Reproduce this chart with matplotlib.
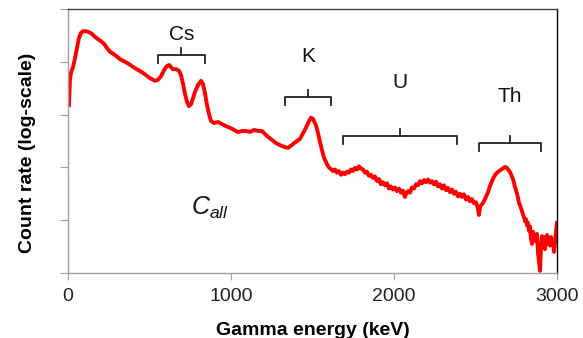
import numpy as np
import matplotlib
matplotlib.use("Agg")
import matplotlib.pyplot as plt
from matplotlib.transforms import blended_transform_factory

plt.rcParams['font.family'] = ['Liberation Sans', 'DejaVu Sans']
plt.rcParams['mathtext.fontset'] = 'custom'
plt.rcParams['mathtext.it'] = 'Liberation Sans:italic'
plt.rcParams['mathtext.rm'] = 'Liberation Sans'

# Gamma energy (keV) and count rate (log10, arbitrary units)
energy_kev = [6, 12, 18, 31, 43, 55, 67, 80, 92, 110, 129, 147, 166, 184, 202, 221, 239, 258,
              288, 319, 362, 411, 460, 503, 534, 552, 571, 589, 607, 620, 632, 644, 663, 681,
              693, 706, 718, 730, 742, 755, 767, 779, 798, 816, 828, 840, 853, 865, 877, 896,
              920, 945, 969, 994, 1018, 1043, 1067, 1092, 1117, 1141, 1166, 1190, 1209, 1227,
              1252, 1276, 1301, 1325, 1350, 1368, 1387, 1405, 1423, 1442, 1460, 1479, 1491,
              1503, 1521, 1534, 1546, 1558, 1571,
              1589, 1601, 1613, 1626, 1638, 1650, 1662, 1675, 1687, 1699, 1711, 1724, 1736,
              1748, 1760, 1773, 1785, 1797, 1810, 1822, 1834, 1846, 1859, 1871, 1883, 1895,
              1908, 1920, 1932, 1945, 1957, 1969, 1981, 1994, 2006, 2018, 2031, 2043, 2055,
              2067, 2074, 2086, 2098, 2110, 2123, 2135, 2147, 2160, 2172, 2184, 2196, 2209,
              2221, 2233, 2245, 2258, 2270, 2282, 2294, 2307, 2319, 2331, 2344, 2356, 2368,
              2380, 2393, 2405, 2417, 2429, 2442, 2454, 2466, 2478, 2491, 2503, 2515, 2521,
              2528, 2540, 2552, 2564, 2577, 2589, 2601, 2613, 2626, 2644, 2663, 2681,
              2693, 2712, 2730, 2742, 2755, 2767, 2779, 2791, 2798, 2804, 2810, 2816, 2822,
              2828, 2834, 2840, 2847, 2853, 2859, 2865, 2871, 2877, 2884, 2890, 2896, 2902,
              2908, 2914, 2920, 2926, 2932, 2939, 2945, 2951, 2957, 2963, 2969, 2975, 2982,
              2988, 2994, 3000]
log_count = [3.18, 3.66, 3.79, 3.90, 4.07, 4.26, 4.45, 4.55, 4.58, 4.58, 4.56, 4.53, 4.47, 4.43,
             4.39, 4.34, 4.26, 4.19, 4.13, 4.05, 3.98, 3.88, 3.79, 3.69, 3.64, 3.66, 3.73, 3.84,
             3.92, 3.94, 3.90, 3.86, 3.86, 3.83, 3.75, 3.58, 3.39, 3.24, 3.16, 3.20, 3.31, 3.43,
             3.56, 3.64, 3.58, 3.41, 3.18, 3.01, 2.88, 2.84, 2.86, 2.82, 2.78, 2.75, 2.71, 2.67,
             2.69, 2.69, 2.67, 2.71, 2.69, 2.69, 2.63, 2.58, 2.52, 2.46, 2.42, 2.39, 2.37, 2.41,
             2.46, 2.50, 2.54, 2.65, 2.75, 2.88, 2.94, 2.92, 2.80, 2.65, 2.48, 2.33, 2.18,
             2.06, 2.00, 1.97, 1.93, 1.96, 1.90, 1.93, 1.86, 1.90, 1.87, 1.92, 1.90, 1.96,
             1.93, 1.99, 1.96, 2.02, 1.98, 1.96, 1.90, 1.92, 1.84, 1.86, 1.80, 1.83, 1.74,
             1.78, 1.68, 1.72, 1.66, 1.70, 1.60, 1.64, 1.58, 1.62, 1.55, 1.60, 1.52, 1.56,
             1.44, 1.50, 1.55, 1.52, 1.62, 1.60, 1.68, 1.66, 1.74, 1.70, 1.76, 1.72, 1.77,
             1.71, 1.74, 1.68, 1.73, 1.64, 1.68, 1.60, 1.66, 1.57, 1.61, 1.53, 1.58, 1.50,
             1.54, 1.45, 1.50, 1.44, 1.49, 1.39, 1.44, 1.36, 1.40, 1.32, 1.34, 1.22, 1.10,
             1.26, 1.30, 1.36, 1.44, 1.53, 1.65, 1.74, 1.82, 1.88, 1.93, 1.97, 2.01,
             1.99, 1.91, 1.78, 1.63, 1.50, 1.33, 1.23, 1.12, 1.05, 0.98, 1.02, 0.90, 0.95,
             0.80, 0.88, 0.66, 0.55, 0.78, 0.62, 0.72, 0.60, 0.74, 0.36, 0.20, 0.04, 0.50,
             0.70, 0.58, 0.68, 0.45, 0.66, 0.72, 0.55, 0.66, 0.52, 0.68, 0.60, 0.62, 0.40,
             0.58, 0.80, 0.95]

x_ticks = [0, 1000, 2000, 3000]

# Nuclide energy windows marked by brackets (keV)
bracket_labels = ['Cs', 'K', 'U', 'Th']
bracket_start = [552, 1331, 1687, 2521]
bracket_end = [840, 1613, 2387, 2902]

fig = plt.figure(figsize=(5.83, 3.38), dpi=100)
ax = fig.add_axes([68/583, 1 - 273/338, (557-68)/583, (273-9)/338])

ax.plot(energy_kev, 10 ** np.array(log_count), color='#ff0000', lw=2.8, solid_joinstyle='round')
ax.set_yscale('log')
ax.set_ylim(1, 1e5)
ax.set_xlim(0, 3000)
ax.set_xticks(x_ticks)
ax.set_xticklabels([str(t) for t in x_ticks])
ax.set_yticks([1, 10, 100, 1e3, 1e4, 1e5])
ax.yaxis.set_minor_locator(matplotlib.ticker.NullLocator())
ax.set_yticklabels([])

ax.tick_params(axis='x', direction='out', length=5, color='#a0a0a0', labelsize=14, labelcolor='#222222', pad=6)
ax.tick_params(axis='y', direction='out', length=6, color='#a0a0a0')
ax.spines['left'].set_color('#a0a0a0')
ax.spines['bottom'].set_color('#a0a0a0')
ax.spines['top'].set_color('#404040')
ax.spines['right'].set_color('#000000')
for s in ax.spines.values():
    s.set_linewidth(1.0)

ax.set_xlabel('Gamma energy (keV)', fontsize=14, fontweight='bold', labelpad=12)
ax.set_ylabel('Count rate (log-scale)', fontsize=14, fontweight='bold')
ax.yaxis.set_label_coords(-0.066, 0.455)

trans = blended_transform_factory(ax.transData, ax.transAxes)
bracket_y = [(273-55)/264, (273-97)/264, (273-136)/264, (273-143)/264]
label_y = [(273-34)/264, (273-57)/264, (273-83)/264, (273-97)/264]
drop = 8/264
tick_up = 7/264
for lab, x0, x1, by, ly in zip(bracket_labels, bracket_start, bracket_end, bracket_y, label_y):
    xm = (x0 + x1) / 2
    ax.plot([x0, x0, x1, x1], [by - drop, by, by, by - drop], transform=trans, color='#222222', lw=1.3,
            clip_on=False, solid_joinstyle='round')
    ax.plot([xm, xm], [by, by + tick_up], transform=trans, color='#222222', lw=1.3, clip_on=False)
    ax.text(xm, ly, lab, transform=trans, ha='center', va='center', fontsize=15, color='#111111')

ax.text(874, (273-208)/264, r'$C_{all}$', transform=trans, ha='center', va='center', fontsize=18, color='#111111')

fig.savefig('out.png', dpi=100)
